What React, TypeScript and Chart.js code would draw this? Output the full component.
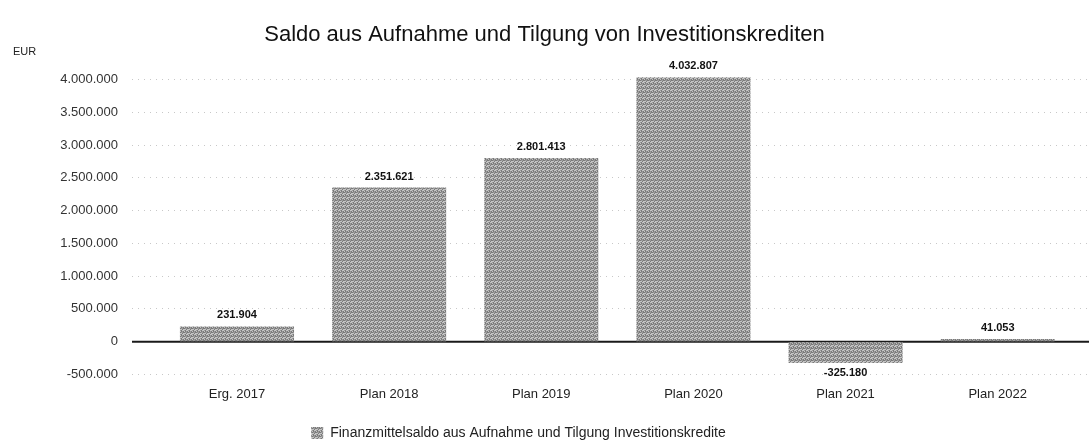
import React, { useEffect, useRef } from "react";
import { Chart, registerables } from "chart.js";

Chart.register(...registerables);

const TITLE = "Saldo aus Aufnahme und Tilgung von Investitionskrediten";
const UNIT_LABEL = "EUR";
const SERIES_LABEL = "Finanzmittelsaldo aus Aufnahme und Tilgung Investitionskredite";
const categories = ["Erg. 2017", "Plan 2018", "Plan 2019", "Plan 2020", "Plan 2021", "Plan 2022"];
const values = [231904, 2351621, 2801413, 4032807, -325180, 41053];
const yTickValues = [-500000, 0, 500000, 1000000, 1500000, 2000000, 2500000, 3000000, 3500000, 4000000];

const FONT = "'Liberation Sans', Arial, Helvetica, sans-serif";

function fmtDE(n: number): string {
  const s = Math.abs(Math.round(n)).toString().replace(/\B(?=(\d{3})+(?!\d))/g, ".");
  return (n < 0 ? "-" : "") + s;
}

function makePattern(): CanvasPattern | string {
  const c = document.createElement("canvas");
  c.width = 4;
  c.height = 4;
  const ctx = c.getContext("2d");
  if (!ctx) return "#a0a0a0";
  ctx.fillStyle = "#c4c4c4";
  ctx.fillRect(0, 0, 4, 4);
  ctx.fillStyle = "#7a7a7a";
  const dark = [[0, 0], [2, 1], [1, 2], [3, 3], [3, 0], [1, 3]];
  dark.forEach(([x, y]) => ctx.fillRect(x, y, 1, 1));
  ctx.fillStyle = "#9a9a9a";
  const mid = [[2, 0], [0, 2], [2, 3], [1, 0]];
  mid.forEach(([x, y]) => ctx.fillRect(x, y, 1, 1));
  const p = ctx.createPattern(c, "repeat");
  return p || "#a0a0a0";
}

export default function App() {
  const ref = useRef<HTMLCanvasElement | null>(null);

  useEffect(() => {
    if (!ref.current) return;
    const pattern = makePattern();

    const zeroLine = {
      id: "zeroLine",
      beforeDatasetsDraw(chart: any) {
        const { ctx, chartArea, scales } = chart;
        const y0 = scales.y.getPixelForValue(0);
        ctx.save();
        ctx.strokeStyle = "#1a1a1a";
        ctx.lineWidth = 2;
        ctx.beginPath();
        ctx.moveTo(chartArea.left, y0);
        ctx.lineTo(chartArea.right, y0);
        ctx.stroke();
        ctx.restore();
      },
    };

    const extras = {
      id: "extras",
      afterLayout(chart: any) {
        if (chart.legend) {
          chart.legend.left -= 26;
          chart.legend.right -= 26;
          chart.legend.top += 4;
          chart.legend.bottom += 4;
        }
      },
      afterDatasetsDraw(chart: any) {
        const { ctx } = chart;
        const meta = chart.getDatasetMeta(0);
        ctx.save();
        ctx.fillStyle = "#111";
        ctx.font = `bold 11px ${FONT}`;
        ctx.textAlign = "center";
        ctx.textBaseline = "middle";
        meta.data.forEach((el: any, i: number) => {
          const v = values[i];
          if (v >= 0) {
            ctx.fillText(fmtDE(v), el.x, el.y - 11);
          } else {
            ctx.fillText(fmtDE(v), el.x, el.y + 10);
          }
        });
        ctx.font = `11px ${FONT}`;
        ctx.textAlign = "left";
        ctx.fillStyle = "#222";
        ctx.fillText(UNIT_LABEL, 13, 52);
        ctx.restore();
      },
    };

    const chart = new Chart(ref.current, {
      type: "bar",
      data: {
        datasets: [
          {
            label: SERIES_LABEL,
            data: values.map((v, i) => ({ x: i, y: v })),
            backgroundColor: pattern as any,
            borderWidth: 0,
            barPercentage: 1,
            categoryPercentage: 0.75,
          },
        ],
      },
      options: {
        responsive: false,
        animation: false,
        layout: { padding: { left: 0, right: 0, top: 0, bottom: 0 } },
        scales: {
          x: {
            type: "linear",
            offset: false,
            min: -0.69,
            max: 5.6,
            grid: { display: false, drawTicks: false },
            border: { display: false },
            afterBuildTicks: (scale: any) => {
              scale.ticks = categories.map((_, i) => ({ value: i }));
            },
            ticks: {
              padding: 12,
              color: "#222",
              font: { family: FONT, size: 13 },
              autoSkip: false,
              maxRotation: 0,
              callback: (v: any) => categories[Number(v)] ?? "",
            },
          },
          y: {
            min: -500000,
            max: 4200000,
            afterBuildTicks: (scale: any) => {
              scale.ticks = yTickValues.map((v) => ({ value: v }));
            },
            afterFit: (scale: any) => {
              scale.width = 132;
            },
            grid: {
              drawTicks: false,
              lineWidth: 1,
              color: (ctx: any) => (ctx.tick && ctx.tick.value === 0 ? "rgba(0,0,0,0)" : "#c8c8c8"),
            },
            border: { display: false, dash: [1, 5] },
            ticks: {
              padding: 14,
              color: "#333",
              font: { family: FONT, size: 13 },
              callback: (v: any) => fmtDE(Number(v)),
            },
          },
        },
        plugins: {
          title: {
            display: true,
            text: TITLE,
            color: "#111",
            font: { family: FONT, size: 22, weight: "normal" },
            padding: { top: 22, bottom: 18 },
          },
          legend: {
            display: true,
            position: "bottom",
            labels: {
              boxWidth: 12,
              boxHeight: 12,
              padding: 8,
              color: "#222",
              font: { family: FONT, size: 14 },
            },
          },
          tooltip: { enabled: false },
        },
      },
      plugins: [zeroLine, extras],
    });

    return () => chart.destroy();
  }, []);

  return (
    <div style={{ position: "absolute", left: 0, top: 0, width: 1089, height: 446, background: "#fff" }}>
      <canvas ref={ref} width={1089} height={446} />
    </div>
  );
}
